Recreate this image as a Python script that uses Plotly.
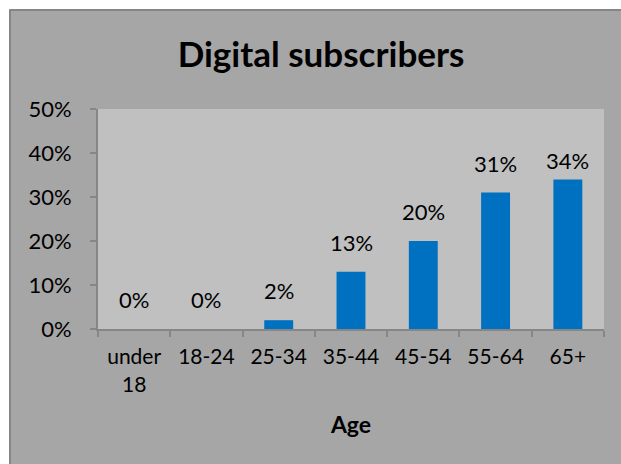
import plotly.graph_objects as go

categories = ["under<br>18", "18-24", "25-34", "35-44", "45-54", "55-64", "65+"]
values = [0.0, 0.0, 0.02, 0.13, 0.20, 0.31, 0.34]
labels = ["0%", "0%", "2%", "13%", "20%", "31%", "34%"]
y_ticks = [0, 0.1, 0.2, 0.3, 0.4, 0.5]

FONT = "Lato"
W, H = 621, 464
L, R, T, B = 98, 17, 109, 135
pw, ph = W - L - R, H - T - B

def px_x(px):
    return (px - L) / pw

def px_y(py):
    return (H - B - py) / ph

fig = go.Figure()
fig.add_trace(go.Bar(
    x=categories, y=values,
    marker=dict(color="#0070c0", line=dict(width=0)),
    width=0.4,
    hoverinfo="skip",
))

# label offset above the bar top (px); the last label sits closer as in the source
n = len(categories)
for i, (c, v, t) in enumerate(zip(categories, values, labels)):
    fig.add_annotation(x=c, y=v, text=t, showarrow=False, yanchor="bottom",
                       yshift=3 if i == n - 1 else 14,
                       font=dict(family=FONT, size=22, color="#000"))

border = "#868686"
fig.update_layout(
    width=W, height=H,
    margin=dict(l=L, r=R, t=T, b=B),
    paper_bgcolor="white",
    plot_bgcolor="rgba(0,0,0,0)",
    showlegend=False,
    title=dict(text="<b>Digital subscribers</b>", x=px_x(321), xref="paper",
               xanchor="center", y=1 - 55 / H, yanchor="middle",
               font=dict(family=FONT, size=35, color="#000")),
    shapes=[
        dict(type="rect", xref="paper", yref="paper", layer="below",
             x0=px_x(9), x1=px_x(W), y0=px_y(H), y1=px_y(9),
             fillcolor="#a6a6a6", line=dict(width=0)),
        dict(type="line", xref="paper", yref="paper", layer="below",
             x0=px_x(10), x1=px_x(W), y0=px_y(10), y1=px_y(10),
             line=dict(color=border, width=2)),
        dict(type="line", xref="paper", yref="paper", layer="below",
             x0=px_x(10), x1=px_x(10), y0=px_y(10), y1=px_y(H),
             line=dict(color=border, width=2)),
        dict(type="rect", xref="paper", yref="paper", layer="below",
             x0=0, x1=1, y0=0, y1=1,
             fillcolor="#c0c0c0", line=dict(width=0)),
    ],
    xaxis=dict(
        type="category", tickson="boundaries", ticks="outside", ticklen=6,
        tickcolor=border, tickwidth=2, showline=True, linecolor=border,
        linewidth=2, showgrid=False,
        tickfont=dict(family=FONT, size=21, color="#000"), ticklabelstandoff=8,
        title=dict(text="<b>Age</b>", font=dict(family=FONT, size=23, color="#000"), standoff=22),
    ),
    yaxis=dict(
        range=[0, 0.5], tickvals=y_ticks, tickformat=".0%", ticks="outside",
        ticklen=6, tickcolor=border, tickwidth=2, showline=True,
        linecolor=border, linewidth=2, showgrid=False, zeroline=False,
        tickfont=dict(family=FONT, size=22, color="#000"), ticklabelstandoff=14,
    ),
)

fig.write_html("out.html")
